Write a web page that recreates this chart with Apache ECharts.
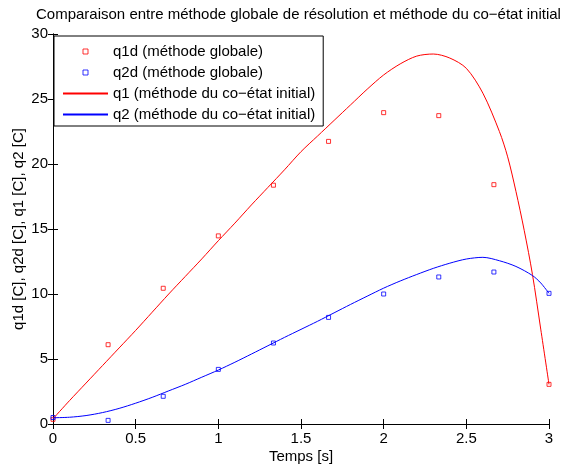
<!DOCTYPE html>
<html>
<head>
<meta charset="utf-8">
<script src="https://cdn.jsdelivr.net/npm/echarts@6/dist/echarts.min.js"></script>
<style>html,body{margin:0;padding:0;background:#fff}#c{width:568px;height:468px}</style>
</head>
<body>
<div id="c"></div>
<script>
// ---- data ----
var titleText = 'Comparaison entre méthode globale de résolution et méthode du co−état initial';
var xName = 'Temps [s]';
var yName = 'q1d [C], q2d [C], q1 [C], q2 [C]';
var seriesNames = ['q1d (méthode globale)', 'q2d (méthode globale)', 'q1 (méthode du co−état initial)', 'q2 (méthode du co−état initial)'];

var tPoints = [0, 0.3333, 0.6667, 1, 1.3333, 1.6667, 2, 2.3333, 2.6667, 3];
var q1d = [0.36, 6.1, 10.44, 14.47, 18.37, 21.74, 23.95, 23.72, 18.41, 3.05];
var q2d = [0.5, 0.28, 2.13, 4.2, 6.23, 8.2, 10.0, 11.31, 11.69, 10.05];

var tQ1 = [0, 0.1, 0.2, 0.3, 0.4, 0.5, 0.6, 0.7, 0.8, 0.9, 1.0, 1.1, 1.2, 1.3, 1.4, 1.5, 1.6, 1.7, 1.8, 1.9, 2.0, 2.1, 2.2, 2.3, 2.4, 2.5, 2.6, 2.7, 2.75, 2.8, 2.85, 2.9, 2.95, 3.0];
var q1 = [0.4, 1.8, 3.15, 4.5, 5.85, 7.2, 8.6, 10.0, 11.35, 12.7, 14.1, 15.45, 16.85, 18.2, 19.55, 20.95, 22.15, 23.35, 24.55, 25.75, 26.85, 27.7, 28.3, 28.46, 28.15, 27.36, 25.45, 22.5, 20.55, 17.9, 14.9, 11.5, 7.3, 3.05];

var tQ2 = [0, 0.1, 0.2, 0.3, 0.4, 0.5, 0.6, 0.7, 0.8, 0.9, 1.0, 1.1, 1.2, 1.3, 1.4, 1.5, 1.6, 1.7, 1.8, 1.9, 2.0, 2.1, 2.2, 2.3, 2.4, 2.5, 2.6, 2.7, 2.8, 2.9, 2.95, 3.0];
var q2 = [0.48, 0.52, 0.65, 0.88, 1.2, 1.6, 2.05, 2.55, 3.05, 3.6, 4.15, 4.75, 5.38, 6.02, 6.66, 7.28, 7.9, 8.55, 9.2, 9.83, 10.45, 11.0, 11.5, 11.97, 12.37, 12.69, 12.82, 12.56, 12.12, 11.42, 10.85, 10.05];

var xMin = 0, xMax = 3, xStep = 0.5;
var yMin = 0, yMax = 30, yStep = 5;

// ---- chart ----
var FONT = 'Liberation Sans, Arial, Helvetica, sans-serif';
var FS = 15;
var RED = '#ff0000', BLUE = '#0000ff';

function pairs(xs, ys) { return xs.map(function (x, i) { return [x, ys[i]]; }); }

var axisCommon = {
  type: 'value',
  axisLine: { show: true, lineStyle: { color: '#000', width: 1 } },
  axisTick: { show: true, inside: true, length: 5, lineStyle: { color: '#000' } },
  splitLine: { show: false }
};

var chart = echarts.init(document.getElementById('c'), null, { renderer: 'canvas' });
chart.setOption({
  animation: false,
  backgroundColor: '#fff',
  title: {
    text: titleText,
    left: 36,
    top: 7,
    padding: 0,
    textStyle: { fontFamily: FONT, fontSize: FS, fontWeight: 'normal', color: '#000' }
  },
  grid: { left: 53, right: 19, top: 34, bottom: 44, containLabel: false, outerBoundsMode: 'none' },
  xAxis: [
    Object.assign({}, axisCommon, {
      min: xMin, max: xMax, interval: xStep, position: 'bottom',
      name: xName, nameLocation: 'middle', nameGap: 25, nameMoveOverlap: false,
      nameTextStyle: { fontFamily: FONT, fontSize: FS, color: '#000' },
      axisLabel: { fontFamily: FONT, fontSize: FS, color: '#000', margin: 7.5 }
    }),
    Object.assign({}, axisCommon, {
      min: xMin, max: xMax, interval: xStep, position: 'top',
      axisLabel: { show: false }
    })
  ],
  yAxis: [
    Object.assign({}, axisCommon, {
      min: yMin, max: yMax, interval: yStep, position: 'left',
      name: yName, nameLocation: 'middle', nameGap: 27, nameRotate: 90, nameMoveOverlap: false,
      nameTextStyle: { fontFamily: FONT, fontSize: FS, color: '#000' },
      axisLabel: { fontFamily: FONT, fontSize: FS, color: '#000', margin: 5 }
    }),
    Object.assign({}, axisCommon, {
      min: yMin, max: yMax, interval: yStep, position: 'right',
      axisLabel: { show: false }
    })
  ],
  legend: {
    orient: 'vertical',
    left: 54,
    top: 36,
    padding: [8, 8, 4, 9],
    itemWidth: 45,
    itemHeight: 5,
    itemGap: 6,
    symbolKeepAspect: true,
    backgroundColor: '#fff',
    borderColor: '#000',
    borderWidth: 1,
    borderRadius: 0,
    textStyle: { fontFamily: FONT, fontSize: FS, color: '#000' },
    data: [
      { name: seriesNames[0], icon: 'path://M0,0H10V10H0Z', itemStyle: { color: 'transparent', borderColor: RED, borderWidth: 1 } },
      { name: seriesNames[1], icon: 'path://M0,0H10V10H0Z', itemStyle: { color: 'transparent', borderColor: BLUE, borderWidth: 1 } },
      { name: seriesNames[2], icon: 'path://M0,0H45V2H0Z', itemStyle: { color: RED, borderWidth: 0 } },
      { name: seriesNames[3], icon: 'path://M0,0H45V2H0Z', itemStyle: { color: BLUE, borderWidth: 0 } }
    ]
  },
  series: [
    {
      name: seriesNames[0], type: 'scatter', symbol: 'rect', symbolSize: 4,
      itemStyle: { color: 'transparent', borderColor: RED, borderWidth: 1 },
      data: pairs(tPoints, q1d)
    },
    {
      name: seriesNames[1], type: 'scatter', symbol: 'rect', symbolSize: 4,
      itemStyle: { color: 'transparent', borderColor: BLUE, borderWidth: 1 },
      data: pairs(tPoints, q2d)
    },
    {
      name: seriesNames[2], type: 'line', symbol: 'none', smooth: 0.3,
      lineStyle: { color: RED, width: 1 }, itemStyle: { color: RED },
      data: pairs(tQ1, q1)
    },
    {
      name: seriesNames[3], type: 'line', symbol: 'none', smooth: 0.3,
      lineStyle: { color: BLUE, width: 1 }, itemStyle: { color: BLUE },
      data: pairs(tQ2, q2)
    }
  ]
});
</script>
</body>
</html>
